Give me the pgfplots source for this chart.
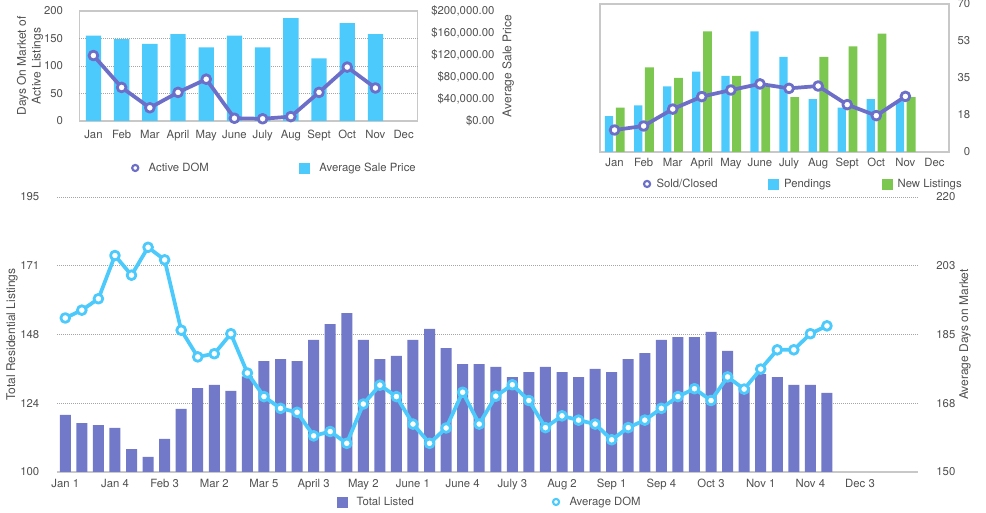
\documentclass[border=0pt]{standalone}
\usepackage{pgfplots}
\pgfplotsset{compat=1.18}
\usepackage{fontspec}
\setmainfont{TeX Gyre Heros}

\definecolor{cyanB}{RGB}{77,202,252}
\definecolor{purpB}{RGB}{114,121,201}
\definecolor{purpL}{RGB}{108,110,200}
\definecolor{greenB}{RGB}{124,199,80}
\definecolor{txt}{RGB}{80,80,80}
\definecolor{frameC}{RGB}{200,200,200}
\definecolor{gridC}{RGB}{165,165,165}

\pgfplotsset{
  base/.style={
    scale only axis, anchor=south west,
    font=\fontsize{8.5}{10.5}\selectfont,
    tick label style={text=txt, font=\fontsize{8.5}{10}\selectfont},
    label style={text=txt, font=\fontsize{9}{11}\selectfont},
    /pgf/number format/assume math mode=true,
    major tick length=0pt, tick style={draw=none},
    major grid style={gridC, line width=0.6pt, dash pattern=on 0.75pt off 0.75pt},
    legend style={draw=none, fill=none, inner sep=0pt, outer sep=0pt,
      font=\fontsize{8.5}{10}\selectfont, text=txt, anchor=west},
    legend cell align=left,
  },
  dom/.style={line width=2.8pt, line join=round, mark=*, mark size=3.3pt,
    mark options={fill=white, line width=2.1pt, solid}},
  sqimg/.style={legend image code/.code={\fill[#1] (0pt,-3.75pt) rectangle (7.5pt,3.75pt);}},
  cimg/.style={legend image code/.code={\draw[#1, line width=1.6pt, fill=white] (2.6pt,0pt) circle (2.3pt);}},
}

\begin{document}
\begin{tikzpicture}

% ---------- top left: active DOM / average sale price ----------
\begin{axis}[base, at={(59.5pt,294pt)}, width=253.8pt, height=82.5pt,
  xmin=-0.5, xmax=11.5, ymin=0, ymax=200000,
  scaled y ticks=false,
  axis line style={frameC, line width=1pt},
  xtick={0,...,11},
  xticklabels={Jan,Feb,Mar,April,May,June,July,Aug,Sept,Oct,Nov,Dec},
  xticklabel style={anchor=base, yshift=-13pt},
  ytick={0,40000,80000,120000,160000,200000},
  yticklabels={{\$0.00},{\$40,000.00},{\$80,000.00},{\$120,000.00},{\$160,000.00},{\$200,000.00}},
  yticklabel pos=right,
  yticklabel style={anchor=east, xshift=61pt},
  extra y ticks={50000,100000,150000}, extra y tick labels={},
  extra y tick style={grid=major},
  ylabel={Average Sale Price},
  ylabel style={at={(axis description cs:1.267,0.5)}, anchor=center, rotate=0},
]
\addplot[ybar, bar width=11.5pt, fill=cyanB, draw=none] coordinates {
  (0,155000)(1,149000)(2,140000)(3,158000)(4,134000)(5,155000)
  (6,134000)(7,187000)(8,114000)(9,178000)(10,158000)};
\end{axis}

\begin{axis}[base, at={(59.5pt,294pt)}, width=253.8pt, height=82.5pt,
  xmin=-0.5, xmax=11.5, ymin=0, ymax=200,
  hide x axis, axis y line*=left, y axis line style={draw=none},
  ytick={0,50,100,150,200},
  yticklabel style={anchor=east, xshift=-8.7pt},
  ylabel={Days On Market of\\Active Listings},
  ylabel style={at={(axis description cs:-0.1457,0.5)}, anchor=center, align=center},
  legend columns=2,
  legend style={at={(0.153,-0.427)},
    /tikz/every odd column/.style={column sep=5pt},
    /tikz/every even column/.style={column sep=66pt}},
]
\addplot[dom, color=purpL, cimg=purpL] coordinates {
  (0,119)(1,61)(2,24)(3,52)(4,76)(5,5)(6,4)(7,8)(8,52)(9,98)(10,60)};
\addlegendentry{Active DOM}
\addlegendimage{sqimg=cyanB}
\addlegendentry{Average Sale Price}
\end{axis}

% ---------- top right: sold / pendings / new listings ----------
\begin{axis}[base, at={(450pt,270.75pt)}, width=261.75pt, height=111pt,
  xmin=-0.5, xmax=11.5, ymin=0, ymax=70,
  axis line style={frameC, line width=1pt},
  xtick={0,...,11},
  xticklabels={Jan,Feb,Mar,April,May,June,July,Aug,Sept,Oct,Nov,Dec},
  xticklabel style={anchor=base, yshift=-11pt},
  ytick={0,17.5,35,52.5,70}, yticklabels={0,18,35,53,70},
  yticklabel pos=right,
  yticklabel style={anchor=east, xshift=19.5pt},
  legend columns=3,
  legend style={at={(0.123,-0.216)},
    /tikz/every odd column/.style={column sep=2pt},
    /tikz/every even column/.style={column sep=36pt}},
]
\addlegendimage{cimg=purpL}
\addlegendimage{sqimg=cyanB}
\addlegendimage{sqimg=greenB}
\addplot[ybar, bar width=6.2pt, bar shift=-4.1pt, fill=cyanB, draw=none, forget plot] coordinates {
  (0,17)(1,22)(2,31)(3,38)(4,36)(5,57)(6,45)(7,25)(8,21)(9,25)(10,24)};
\addplot[ybar, bar width=6.6pt, bar shift=4.3pt, fill=greenB, draw=none, forget plot] coordinates {
  (0,21)(1,40)(2,35)(3,57)(4,36)(5,31)(6,26)(7,45)(8,50)(9,56)(10,26)};
\addplot[dom, color=purpL, forget plot] coordinates {
  (0,10.4)(1,12.3)(2,20.3)(3,26.2)(4,29.3)(5,32.2)(6,30.1)(7,31.2)(8,22.4)(9,17.2)(10,26.3)};
\legend{Sold/Closed, Pendings, New Listings}
\end{axis}

% ---------- bottom: weekly total listed / average DOM ----------
\begin{axis}[base, at={(42.75pt,30.75pt)}, width=645.75pt, height=206.25pt,
  xmin=-0.5, xmax=51.5, ymin=100, ymax=195,
  axis x line*=bottom, x axis line style={frameC, line width=1.4pt},
  axis y line*=left, y axis line style={draw=none},
  xtick={0,3,...,48},
  xticklabels={Jan 1,Jan 4,Feb 3,Mar 2,Mar 5,April 3,May 2,June 1,June 4,July 3,Aug 2,Sep 1,Sep 4,Oct 3,Nov 1,Nov 4,Dec 3},
  xticklabel style={anchor=base, yshift=-11.5pt},
  ytick={100,123.75,147.5,171.25,195}, yticklabels={100,124,148,171,195},
  ymajorgrids,
  yticklabel style={anchor=east, xshift=-9.75pt},
  ylabel={Total Residential Listings},
  ylabel style={at={(axis description cs:-0.0523,0.5)}, anchor=center},
]
\addplot[ybar, bar width=8.25pt, fill=purpB, draw=none] coordinates {
  (0,119.7)(1,116.9)(2,116.2)(3,115.2)(4,107.9)(5,105.2)(6,111.4)(7,121.8)
  (8,129.0)(9,130.1)(10,128.0)(11,133.0)(12,138.3)(13,139.0)(14,138.3)(15,145.6)
  (16,151.1)(17,154.9)(18,145.6)(19,139.0)(20,140.1)(21,145.6)(22,149.4)(23,142.8)
  (24,137.3)(25,137.3)(26,136.3)(27,132.8)(28,134.5)(29,136.3)(30,134.5)(31,132.8)
  (32,135.6)(33,134.5)(34,139.0)(35,141.1)(36,145.6)(37,146.6)(38,146.6)(39,148.4)
  (40,141.8)(41,129.5)(42,133.8)(43,132.8)(44,130.1)(45,130.1)(46,127.3)};
\end{axis}

\begin{axis}[base, at={(42.75pt,30.75pt)}, width=645.75pt, height=206.25pt,
  xmin=-0.5, xmax=51.5, ymin=150, ymax=220,
  hide x axis, axis y line*=right, y axis line style={draw=none},
  ytick={150,167.5,185,202.5,220}, yticklabels={150,168,185,203,220},
  yticklabel style={anchor=west, xshift=10.3pt},
  ylabel={Average Days on Market},
  ylabel style={at={(axis description cs:1.0546,0.5)}, anchor=center},
  legend columns=2,
  legend style={at={(0.325,-0.109)},
    /tikz/every odd column/.style={column sep=5pt},
    /tikz/every even column/.style={column sep=101.5pt}},
]
\addlegendimage{sqimg=purpB}
\addlegendentry{Total Listed}
\addplot[dom, color=cyanB, cimg=cyanB] coordinates {
  (0,189.2)(1,191.2)(2,194.1)(3,205.1)(4,200.1)(5,207.2)(6,204.0)(7,186.1)
  (8,179.3)(9,180.1)(10,185.2)(11,175.2)(12,169.2)(13,166.2)(14,165.2)(15,159.2)
  (16,160.3)(17,157.3)(18,167.3)(19,172.1)(20,169.2)(21,162.2)(22,157.3)(23,161.2)
  (24,170.3)(25,162.2)(26,169.3)(27,172.2)(28,168.2)(29,161.3)(30,164.3)(31,163.2)
  (32,162.2)(33,158.2)(34,161.3)(35,163.2)(36,166.2)(37,169.2)(38,171.2)(39,168.2)
  (40,174.2)(41,171.1)(42,176.2)(43,181.1)(44,181.1)(45,185.2)(46,187.2)};
\addlegendentry{Average DOM}
\end{axis}

\pgfresetboundingbox
\path (0pt,0pt) rectangle (739.5pt,384.75pt);
\end{tikzpicture}
\end{document}
